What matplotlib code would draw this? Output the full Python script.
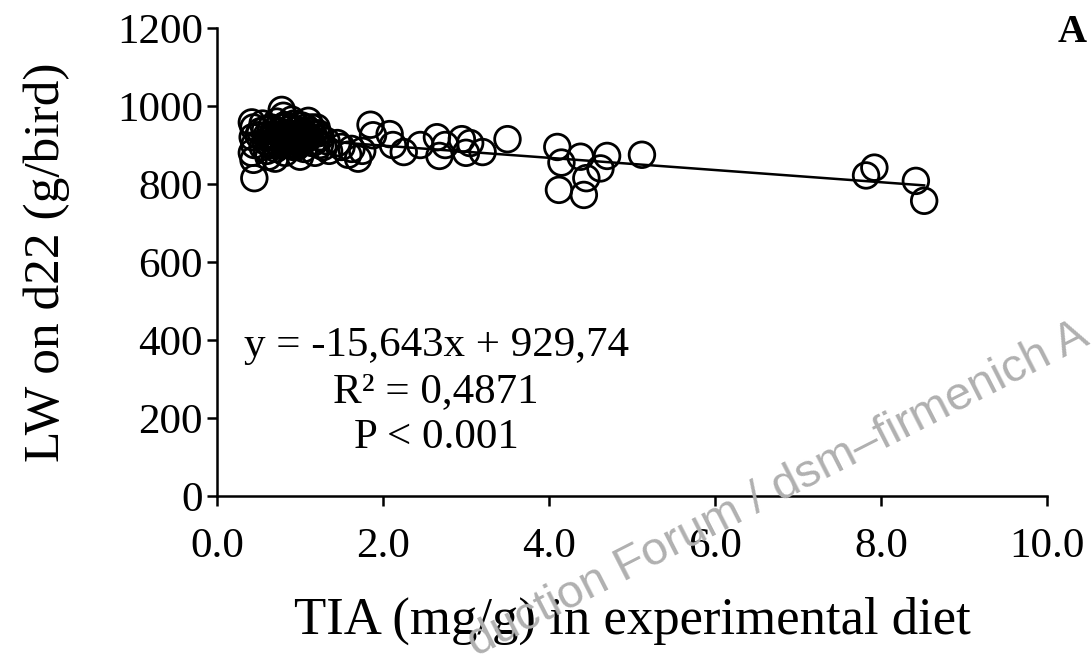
import numpy as np
import matplotlib
matplotlib.use("Agg")
import matplotlib.pyplot as plt

plt.rcParams['font.family'] = ['Liberation Serif', 'DejaVu Serif']

# TIA (mg/g) in diet vs live weight on d22 (g/bird)
tia = [
    0.42, 0.44, 0.43, 0.45, 0.42, 0.44, 0.45,
    0.52, 0.55, 0.58, 0.60, 0.62, 0.55, 0.50, 0.58, 0.63,
    0.65, 0.68, 0.70, 0.70, 0.72, 0.75, 0.78, 0.80, 0.80, 0.82, 0.85,
    0.66, 0.74, 0.78, 0.84, 0.88, 0.93, 0.97, 0.71, 0.86,
    0.88, 0.90, 0.92, 0.95, 0.98, 1.00, 1.02, 1.05, 1.05, 1.10, 1.12,
    0.96, 1.03, 1.08, 1.14, 1.22, 0.92, 1.00,
    0.60, 0.64, 0.69, 0.73, 0.77, 0.81, 0.83, 0.87, 0.91, 0.94,
    0.99, 1.04, 1.07, 1.11, 1.16, 1.19, 1.24, 0.76, 0.89, 1.01,
    1.15, 1.18, 1.20, 1.25, 1.28, 1.32, 1.35, 1.45, 1.50, 1.58, 1.62,
    1.70, 1.75, 1.85, 1.88, 2.08, 2.12, 2.25, 2.45, 2.65, 2.68, 2.75,
    2.95, 3.00, 3.05, 3.20, 3.50,
    4.10, 4.15, 4.12, 4.38, 4.45, 4.42, 4.62, 4.70, 5.12,
    7.82, 7.92, 8.42, 8.52,
]
lw_d22 = [
    958, 945, 920, 900, 880, 862, 815,
    935, 955, 910, 885, 870, 895, 925, 940, 905,
    945, 925, 900, 865, 960, 935, 990, 975, 910, 880, 950,
    920, 915, 945, 930, 900, 955, 925, 890, 910,
    925, 965, 895, 940, 910, 870, 950, 925, 890, 962, 935,
    895, 935, 915, 945, 930, 920, 905,
    925, 900, 938, 905, 925, 950, 905, 940, 918, 900,
    930, 910, 945, 920, 928, 910, 900, 898, 945, 915,
    905, 880, 945, 920, 895, 910, 885, 905, 895, 875, 890,
    865, 885, 952, 925, 928, 900, 882, 900, 920, 872, 900,
    915, 880, 905, 882, 915,
    895, 855, 785, 870, 815, 772, 840, 872, 875,
    822, 842, 808, 757,
]

# linear trendline reported on the chart
slope = -15.643
intercept = 929.74
eq_lines = ['y = -15,643x + 929,74', 'R² = 0,4871', 'P < 0.001']

x_ticks = [0, 2, 4, 6, 8, 10]
y_ticks = [0, 200, 400, 600, 800, 1000, 1200]

fig = plt.figure(figsize=(10.92, 6.59), dpi=100)
ax = fig.add_axes([0.1987, 0.2473, 0.7601, 0.7102])

ax.scatter(tia, lw_d22, s=340, facecolors='none', edgecolors='black',
           linewidths=2.0, zorder=3)
x_fit = np.array([min(tia), max(tia)])
ax.plot(x_fit, slope * x_fit + intercept, color='black', lw=1.8, zorder=2)

ax.set_xlim(0, 10)
ax.set_ylim(0, 1200)
ax.set_xticks(x_ticks, [f'{v:.1f}' for v in x_ticks])
ax.set_yticks(y_ticks, [str(v) for v in y_ticks])
ax.tick_params(direction='out', length=7, width=1.8, labelsize=31,
               colors='black')
ax.tick_params(axis='x', pad=16)
ax.tick_params(axis='y', pad=3)
for side in ('top', 'right'):
    ax.spines[side].set_visible(False)
for side in ('left', 'bottom'):
    ax.spines[side].set_linewidth(1.8)

ax.set_xlabel('TIA (mg/g) in experimental diet', fontsize=38, labelpad=22)
ax.set_ylabel('LW on d22 (g/bird)', fontsize=37)
ax.yaxis.set_label_coords(-0.177, 0.5)

ax.text(2.64, 267, '\n'.join(eq_lines), fontsize=31, ha='center', va='center',
        linespacing=1.25)

fig.text(0.982, 0.95, 'A', fontsize=29, fontweight='bold', ha='center',
         va='center')

# watermark from the source image
fig.text(0.44, -0.01, 'duction Forum / dsm\u2013firmenich A', fontsize=34,
         family=['Liberation Sans', 'DejaVu Sans'], color='#b0b0b0',
         rotation=27, ha='left', va='bottom', rotation_mode='anchor',
         zorder=10)

fig.savefig('out.png', dpi=100)
